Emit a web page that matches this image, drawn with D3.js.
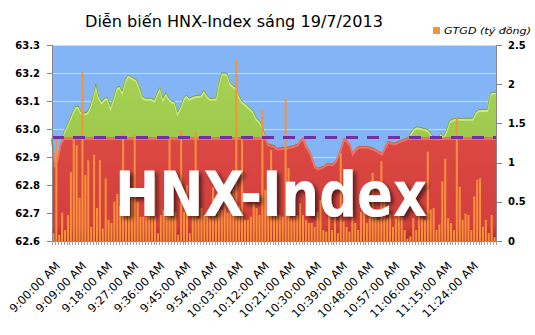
<!DOCTYPE html>
<html>
<head>
<meta charset="utf-8">
<script src="https://cdnjs.cloudflare.com/ajax/libs/d3/7.8.5/d3.min.js"></script>
<style>
  body { margin: 0; background: #fff; }
</style>
</head>
<body>
<script>
// HNX-Index, one value per minute from 9:00
const indexValues = [
    62.97, 62.87, 62.90, 62.95, 62.99, 63.01, 63.035, 63.06, 63.08, 63.082,
    63.06, 63.057, 63.06, 63.08, 63.115, 63.16, 63.115, 63.098, 63.11, 63.113,
    63.08, 63.11, 63.145, 63.154, 63.135, 63.175, 63.193, 63.187, 63.181, 63.175,
    63.15, 63.115, 63.11, 63.11, 63.11, 63.104, 63.13, 63.149, 63.11, 63.13,
    63.11, 63.10, 63.098, 63.06, 63.08, 63.11, 63.121, 63.11, 63.115, 63.119,
    63.12, 63.121, 63.139, 63.12, 63.11, 63.11, 63.11, 63.16, 63.201, 63.20,
    63.199, 63.165, 63.155, 63.148, 63.12, 63.10, 63.092, 63.082, 63.072, 63.062,
    63.038, 63.03, 63.01, 62.975, 62.948, 62.944, 62.942, 62.932, 62.933, 62.935,
    62.935, 62.937, 62.939, 62.942, 62.946, 62.96, 62.97, 62.94, 62.925, 62.90,
    62.868, 62.861, 62.864, 62.868, 62.878, 62.877, 62.876, 62.885, 62.905, 62.935,
    62.968, 62.96, 62.945, 62.914, 62.93, 62.938, 62.938, 62.938, 62.938, 62.935,
    62.932, 62.926, 62.92, 62.914, 62.935, 62.956, 62.953, 62.95, 62.953, 62.958,
    62.962, 62.966, 62.972, 62.99, 63.003, 63.008, 63.006, 63.003, 63.0, 62.996,
    62.979, 62.972, 62.968, 62.985, 62.975, 62.995, 63.028, 63.035, 63.038, 63.038,
    63.038, 63.038, 63.038, 63.038, 63.038, 63.06, 63.069, 63.07, 63.07, 63.07,
    63.128, 63.131, 63.131
];

// GTGD (ty dong), one bar per minute
const gtgdValues = [
    0.10, 1.31, 0.08, 0.36, 0.14, 0.33, 0.88, 1.33, 1.22, 0.55,
    2.16, 0.84, 1.03, 0.18, 1.10, 0.42, 1.03, 0.16, 0.80, 0.27,
    0.23, 0.50, 0.60, 0.45, 1.38, 0.55, 0.71, 0.60, 1.35, 0.50,
    0.31, 0.31, 0.31, 0.33, 0.33, 0.82, 0.10, 0.33, 0.40, 0.31,
    1.29, 0.31, 0.37, 0.08, 1.42, 0.37, 0.71, 0.10, 0.33, 1.39,
    0.29, 0.42, 0.33, 0.31, 0.29, 0.69, 0.31, 0.40, 0.40, 0.67,
    0.36, 0.40, 0.67, 2.31, 0.45, 1.31, 0.27, 0.27, 0.31, 0.48,
    0.42, 0.33, 1.67, 0.65, 0.40, 1.16, 0.33, 0.35, 0.33, 0.31,
    1.82, 0.93, 0.29, 0.31, 0.33, 0.48, 0.33, 0.27, 0.23, 0.23,
    0.18, 0.37, 0.52, 0.14, 0.12, 0.46, 0.14, 0.31, 0.10, 1.12,
    0.25, 0.18, 0.12, 0.40, 0.23, 0.14, 0.37, 0.44, 0.23, 0.35,
    0.87, 0.40, 0.27, 1.02, 0.52, 0.29, 0.35, 0.18, 0.29, 0.37,
    0.31, 0.14, 0.03, 0.06, 0.29, 0.14, 0.35, 0.29, 0.27, 1.14,
    0.40, 0.42, 0.14, 0.21, 0.76, 1.05, 0.29, 0.23, 0.14, 1.58,
    0.69, 0.27, 0.35, 0.33, 0.14, 0.57, 0.78, 0.80, 0.18, 0.27,
    0.10, 0.33, 0.05
];

const refValue = 62.97;   // tham chieu
const leftTicks = [62.6, 62.7, 62.8, 62.9, 63.0, 63.1, 63.2, 63.3];
const rightTicks = [0, 0.5, 1, 1.5, 2, 2.5];
const labelEvery = 9;

// category labels: 9:00:00 AM, 9:01:00 AM ...
const times = indexValues.map((d, i) => {
    const m = 9 * 60 + i;
    const mm = String(m % 60).padStart(2, "0");
    return `${Math.floor(m / 60)}:${mm}:00 AM`;
});

const width = 535, height = 335;
const plotLeft = 52, plotRight = 496, plotTop = 45, plotBottom = 241;

const svg = d3.select("body").append("svg")
    .attr("width", width)
    .attr("height", height);

const defs = svg.append("defs");
const redGrad = defs.append("linearGradient").attr("id", "redGrad")
    .attr("x1", 0).attr("y1", 0).attr("x2", 0).attr("y2", 1);
redGrad.append("stop").attr("offset", "0%").attr("stop-color", "#dc4844");
redGrad.append("stop").attr("offset", "85%").attr("stop-color", "#d23f3c");
redGrad.append("stop").attr("offset", "100%").attr("stop-color", "#a92a28");

const greenGrad = defs.append("linearGradient").attr("id", "greenGrad")
    .attr("x1", 0).attr("y1", 0).attr("x2", 0).attr("y2", 1);
greenGrad.append("stop").attr("offset", "0%").attr("stop-color", "#a6d154");
greenGrad.append("stop").attr("offset", "100%").attr("stop-color", "#8fbd40");

const shadow = defs.append("filter").attr("id", "shadow")
    .attr("x", "-10%").attr("y", "-20%").attr("width", "130%").attr("height", "150%");
shadow.append("feDropShadow")
    .attr("dx", 3).attr("dy", 3).attr("stdDeviation", 2)
    .attr("flood-color", "#000").attr("flood-opacity", 0.6);

// scales
const x = d3.scaleBand().domain(d3.range(indexValues.length)).range([plotLeft, plotRight]);
const xp = d3.scalePoint().domain(d3.range(indexValues.length)).range([plotLeft, plotRight]);
const y = d3.scaleLinear().domain([62.6, 63.3]).range([plotBottom, plotTop]);
const y2 = d3.scaleLinear().domain([0, 2.5]).range([plotBottom, plotTop]);

// plot background
svg.append("rect")
    .attr("x", plotLeft).attr("y", plotTop)
    .attr("width", plotRight - plotLeft).attr("height", plotBottom - plotTop)
    .attr("fill", "#82b4f6");

// gridlines
svg.append("g").selectAll("line")
    .data(leftTicks.slice(1))
    .join("line")
    .attr("x1", plotLeft).attr("x2", plotRight)
    .attr("y1", d => Math.round(y(d)) + 0.5).attr("y2", d => Math.round(y(d)) + 0.5)
    .attr("stroke", "#c6dcf8").attr("stroke-width", 1);

// green area (index)
const areaIdx = d3.area()
    .x((d, i) => xp(i))
    .y0(plotBottom)
    .y1(d => y(d));
svg.append("path")
    .datum(indexValues)
    .attr("d", areaIdx)
    .attr("fill", "url(#greenGrad)");
svg.append("path")
    .datum(indexValues)
    .attr("d", d3.line().x((d, i) => xp(i)).y(d => y(d) + 1.5))
    .attr("fill", "none")
    .attr("stroke", "#cbe888")
    .attr("stroke-width", 2);
svg.append("path")
    .datum(indexValues)
    .attr("d", d3.line().x((d, i) => xp(i)).y(d => y(d)))
    .attr("fill", "none")
    .attr("stroke", "#6f9a33")
    .attr("stroke-width", 0.8);

// red area (below reference)
const redValues = indexValues.map(v => Math.min(v, refValue));
svg.append("path")
    .datum(redValues)
    .attr("d", areaIdx)
    .attr("fill", "url(#redGrad)");
svg.append("path")
    .datum(redValues)
    .attr("d", d3.line().x((d, i) => xp(i)).y(d => y(d) + 1.5))
    .attr("fill", "none")
    .attr("stroke", "#ef6f6a")
    .attr("stroke-width", 2);

// GTGD bars
svg.append("g").selectAll("rect")
    .data(gtgdValues)
    .join("rect")
    .attr("x", (d, i) => x(i) + x.bandwidth() / 2 - 1)
    .attr("y", d => y2(d))
    .attr("width", 2)
    .attr("height", d => plotBottom - y2(d))
    .attr("fill", "#f7923a");

// reference dashed line
svg.append("line")
    .attr("x1", plotLeft).attr("x2", plotRight)
    .attr("y1", y(refValue)).attr("y2", y(refValue))
    .attr("stroke", "#7030a0")
    .attr("stroke-width", 3)
    .attr("stroke-dasharray", "12,9");

// axes
const axisColor = "#868686";
svg.append("line")
    .attr("x1", plotLeft + 0.5).attr("x2", plotLeft + 0.5)
    .attr("y1", plotTop).attr("y2", plotBottom)
    .attr("stroke", axisColor);
svg.append("line")
    .attr("x1", plotRight + 0.5).attr("x2", plotRight + 0.5)
    .attr("y1", plotTop).attr("y2", plotBottom)
    .attr("stroke", axisColor);
svg.append("line")
    .attr("x1", plotLeft).attr("x2", plotRight + 1)
    .attr("y1", plotBottom + 0.5).attr("y2", plotBottom + 0.5)
    .attr("stroke", axisColor);

const leftAxis = svg.append("g");
leftAxis.selectAll("line")
    .data(leftTicks)
    .join("line")
    .attr("x1", plotLeft - 5).attr("x2", plotLeft)
    .attr("y1", d => Math.round(y(d)) + 0.5).attr("y2", d => Math.round(y(d)) + 0.5)
    .attr("stroke", axisColor);
leftAxis.selectAll("text")
    .data(leftTicks)
    .join("text")
    .attr("x", 40).attr("y", d => y(d))
    .attr("dy", "0.35em")
    .attr("text-anchor", "end")
    .attr("font-family", "DejaVu Sans")
    .attr("font-weight", "bold")
    .attr("font-size", 10)
    .attr("fill", "#000")
    .text(d => d.toFixed(1));

const rightAxis = svg.append("g");
rightAxis.selectAll("line")
    .data(rightTicks)
    .join("line")
    .attr("x1", plotRight).attr("x2", plotRight + 6)
    .attr("y1", d => Math.round(y2(d)) + 0.5).attr("y2", d => Math.round(y2(d)) + 0.5)
    .attr("stroke", axisColor);
rightAxis.selectAll("text")
    .data(rightTicks)
    .join("text")
    .attr("x", 508).attr("y", d => y2(d))
    .attr("dy", "0.35em")
    .attr("font-family", "DejaVu Sans")
    .attr("font-weight", "bold")
    .attr("font-size", 10)
    .attr("fill", "#000")
    .text(d => d3.format("~g")(d));

// category ticks and labels
svg.append("g").selectAll("line")
    .data(d3.range(indexValues.length + 1))
    .join("line")
    .attr("x1", i => Math.round(plotLeft + i * x.bandwidth()) + 0.5)
    .attr("x2", i => Math.round(plotLeft + i * x.bandwidth()) + 0.5)
    .attr("y1", plotBottom).attr("y2", plotBottom + 4)
    .attr("stroke", "#a0a0a0");

svg.append("g").selectAll("text")
    .data(times.filter((t, i) => i % labelEvery === 0))
    .join("text")
    .attr("transform", (d, k) => {
        const cx = x(k * labelEvery) + x.bandwidth() / 2;
        return `translate(${cx + 4.5},${264}) rotate(-45)`;
    })
    .attr("text-anchor", "end")
    .attr("dominant-baseline", "central")
    .attr("font-family", "DejaVu Sans")
    .attr("font-size", 11.5)
    .attr("fill", "#000")
    .text(d => d);

// big watermark text
svg.append("text")
    .attr("x", 115).attr("y", 216)
    .attr("font-family", "DejaVu Sans")
    .attr("font-weight", "bold")
    .attr("font-size", 63)
    .attr("textLength", 312)
    .attr("lengthAdjust", "spacingAndGlyphs")
    .attr("fill", "#fff")
    .attr("filter", "url(#shadow)")
    .text("HNX-Index");

// title
svg.append("text")
    .attr("x", 85).attr("y", 27)
    .attr("font-family", "DejaVu Sans")
    .attr("font-size", 16.5)
    .attr("textLength", 298)
    .attr("lengthAdjust", "spacingAndGlyphs")
    .attr("fill", "#000")
    .text("Diễn biến HNX-Index sáng 19/7/2013");

// legend
svg.append("rect")
    .attr("x", 433).attr("y", 27)
    .attr("width", 7).attr("height", 7)
    .attr("fill", "#f7923a");
svg.append("text")
    .attr("x", 444).attr("y", 34)
    .attr("font-family", "DejaVu Sans")
    .attr("font-style", "italic")
    .attr("font-size", 9.5)
    .attr("textLength", 87)
    .attr("lengthAdjust", "spacingAndGlyphs")
    .attr("fill", "#000")
    .text("GTGD (tỷ đồng)");
</script>
</body>
</html>
